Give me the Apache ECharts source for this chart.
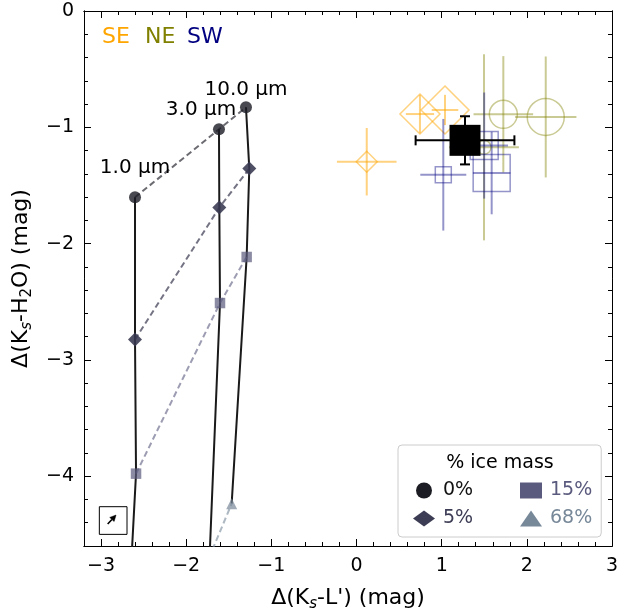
<!DOCTYPE html>
<html><head><meta charset="utf-8">
<script src="https://cdn.jsdelivr.net/npm/echarts@6/dist/echarts.min.js"></script>
<style>html,body{margin:0;padding:0;background:#fff}#c{width:618px;height:613px}</style>
</head><body><div id="c"></div>
<script>
// ---- model grid: grain sizes (columns) x ice fraction (rows) ----
const grainSizes = ['1.0 µm', '3.0 µm', '10.0 µm'];
const iceLabels = ['0%', '5%', '15%', '68%'];
const ice0X = [-2.601, -1.615, -1.298];
const ice0Y = [-1.602, -1.017, -0.828];
const ice5X = [-2.601, -1.611, -1.259];
const ice5Y = [-2.825, -1.690, -1.355];
const ice15X = [-2.589, -1.603, -1.290];
const ice15Y = [-3.978, -2.511, -2.115];
const ice68X = [-2.70, -1.725, -1.466];
const ice68Y = [-5.50, -4.689, -4.236];

// ---- observations ----
const seX = [0.745, 1.039, 0.120];
const seY = [-0.886, -0.851, -1.296];
const seXerr = [0.166, 0.156, 0.35];
const seYerr = [0.165, 0.13, 0.29];
const neX = [1.724, 2.222, 1.497];
const neY = [-0.888, -0.911, -1.172];
const neXerr = [0.35, 0.36, 0.41];
const neYerr = [0.50, 0.52, 0.80];
const swX = [1.019, 1.499, 1.587];
const swY = [-1.408, -1.157, -1.393];
const swXerr = [0.27, 0.28, 0.22];
const swYerr = [0.48, 0.456, 0.355];
const meanX = [1.274];
const meanY = [-1.112];
const meanXerr = [0.58];
const meanYerr = [0.207];

// reddening-vector inset (data coords)
const vecStart = [-2.922, -4.411];
const vecEnd = [-2.824, -4.334];
const insetBox = [[-3.02, -4.262], [-2.695, -4.50]];

// axis ticks
const xMajor = [-3, -2, -1, 0, 1, 2, 3];
const yMajor = [-4, -3, -2, -1, 0];

// ---- styles (kept separate from data) ----
const seSize = [40, 48, 21];
const neSize = [28, 37, 14];
const swSize = [16, 28, 37];
const meanSize = [31];
const labelOffsets = [[0, -30], [-18, -19], [0, -18]];
const FONT = '"DejaVu Sans", sans-serif';

const chart = echarts.init(document.getElementById('c'), null, {renderer: 'canvas'});
const fmt = v => (v < 0 ? '\u2212' + Math.abs(v) : String(v));

function xAx(pos, major) {
  const a = {type: 'value', position: pos, min: -3.2, max: 3, gridIndex: 0,
    splitLine: {show: false},
    axisLine: {show: true, onZero: false, lineStyle: {color: '#000', width: 1}},
    axisLabel: {show: false}};
  if (major) {
    a.axisTick = {show: true, inside: true, length: 7, customValues: xMajor, lineStyle: {color: '#000', width: 1}};
    if (pos === 'bottom') {
      a.axisLabel = {show: true, customValues: xMajor, formatter: fmt, color: '#000', fontSize: 19, fontFamily: FONT, margin: 11};
      a.name = '{m|\u0394(K}{s|s}{m|-L\') (mag)}';
      a.nameLocation = 'middle';
      a.nameGap = 38;
      a.nameTextStyle = {fontFamily: FONT, color: '#000', fontSize: 22,
        rich: {m: {fontSize: 22, lineHeight: 28, fontFamily: FONT, color: '#000'},
               s: {fontSize: 15, lineHeight: 14, verticalAlign: 'bottom', fontStyle: 'italic', fontFamily: FONT, color: '#000'}}};
    }
  } else {
    a.interval = 0.2;
    a.axisTick = {show: true, inside: true, length: 4, interval: 0, lineStyle: {color: '#000', width: 1}};
  }
  return a;
}
function yAx(pos, major) {
  const a = {type: 'value', position: pos, min: -4.6, max: 0, gridIndex: 0,
    splitLine: {show: false},
    axisLine: {show: true, onZero: false, lineStyle: {color: '#000', width: 1}},
    axisLabel: {show: false}};
  if (major) {
    a.axisTick = {show: true, inside: true, length: 7, customValues: yMajor, lineStyle: {color: '#000', width: 1}};
    if (pos === 'left') {
      a.axisLabel = {show: true, customValues: yMajor, formatter: fmt, color: '#000', fontSize: 19, fontFamily: FONT, margin: 10};
      a.name = '{m|\u0394(K}{s|s}{m|-H}{t|2}{m|O) (mag)}';
      a.nameLocation = 'middle';
      a.nameRotate = 90;
      a.nameGap = 46;
      a.nameTextStyle = {fontFamily: FONT, color: '#000', fontSize: 22,
        rich: {m: {fontSize: 22, lineHeight: 28, fontFamily: FONT, color: '#000'},
               s: {fontSize: 15, lineHeight: 14, verticalAlign: 'bottom', fontStyle: 'italic', fontFamily: FONT, color: '#000'},
               t: {fontSize: 15, lineHeight: 14, verticalAlign: 'bottom', fontFamily: FONT, color: '#000'}}};
    }
  } else {
    a.interval = 0.2;
    a.axisTick = {show: true, inside: true, length: 4, interval: 0, lineStyle: {color: '#000', width: 1}};
  }
  return a;
}

const iceX = [ice0X, ice5X, ice15X, ice68X];
const iceY = [ice0Y, ice5Y, ice15Y, ice68Y];
const iceSymbol = ['circle', 'diamond', 'rect', 'triangle'];
const iceSymSize = [12, 14, 10.5, 11];
const iceMarkerColor = ['rgba(28,28,38,0.8)', 'rgba(55,55,80,0.88)', 'rgba(90,90,126,0.7)', 'rgba(119,136,153,0.7)'];
const iceDashColor = ['rgba(28,28,38,0.65)', 'rgba(55,55,80,0.7)', 'rgba(90,90,126,0.6)', 'rgba(119,136,153,0.6)'];
const iceLegendColor = ['#1c1c24', '#3c3c55', '#5a5a7e', '#778899'];
const iceTextColor = ['#111111', '#3c3c55', '#5a5a7e', '#778899'];

const series = [];
// solid lines: constant grain size
grainSizes.forEach((g, gi) => {
  series.push({type: 'line', name: 'grain ' + g, z: 3, silent: true, showSymbol: false, symbol: 'none',
    data: iceX.map((xs, k) => [xs[gi], iceY[k][gi]]),
    lineStyle: {color: '#1a1a1a', width: 2}, clip: true});
});
// dashed lines + markers: constant ice fraction
iceLabels.forEach((lab, k) => {
  series.push({type: 'line', name: lab, z: 4 + k, silent: true, clip: true,
    symbol: iceSymbol[k], symbolSize: iceSymSize[k], showSymbol: true,
    itemStyle: {color: iceMarkerColor[k], borderWidth: 0, opacity: 1},
    lineStyle: {color: iceDashColor[k], width: 2, type: [6, 3.5]},
    data: iceX[k].map((x, i) => {
      const d = {value: [x, iceY[k][i]]};
      if (k === 0) d.label = {show: true, formatter: grainSizes[i], position: 'inside', offset: labelOffsets[i],
        fontSize: 20, fontFamily: FONT, color: '#000'};
      return d;
    })
  });
});

function errSeries(name, xs, ys, xe, ye, color, width, cap, z) {
  return {type: 'custom', name, z, silent: true, clip: true,
    data: xs.map((x, i) => [x, ys[i], xe[i], ye[i]]),
    encode: {x: 0, y: 1},
    renderItem(params, api) {
      const x = api.value(0), y = api.value(1), dx = api.value(2), dy = api.value(3);
      const l = api.coord([x - dx, y]), r = api.coord([x + dx, y]);
      const t = api.coord([x, y + dy]), b = api.coord([x, y - dy]);
      const style = {stroke: color, lineWidth: width, fill: null};
      const ch = [
        {type: 'line', shape: {x1: l[0], y1: l[1], x2: r[0], y2: r[1]}, style},
        {type: 'line', shape: {x1: t[0], y1: t[1], x2: b[0], y2: b[1]}, style}];
      if (cap) {
        ch.push({type: 'line', shape: {x1: l[0], y1: l[1] - cap, x2: l[0], y2: l[1] + cap}, style});
        ch.push({type: 'line', shape: {x1: r[0], y1: r[1] - cap, x2: r[0], y2: r[1] + cap}, style});
        ch.push({type: 'line', shape: {x1: t[0] - cap, y1: t[1], x2: t[0] + cap, y2: t[1]}, style});
        ch.push({type: 'line', shape: {x1: b[0] - cap, y1: b[1], x2: b[0] + cap, y2: b[1]}, style});
      }
      return {type: 'group', children: ch};
    }};
}
function markSeries(name, xs, ys, sizes, symbol, color, filled, z) {
  return {type: 'scatter', name, z, silent: true, symbol,
    data: xs.map((x, i) => ({value: [x, ys[i]], symbolSize: sizes[i]})),
    itemStyle: filled ? {color: color, opacity: 1} : {color: 'rgba(0,0,0,0)', borderColor: color, borderWidth: 1.5, opacity: 1}};
}
const seC = 'rgba(255,165,0,0.5)', neC = 'rgba(128,128,0,0.42)', swC = 'rgba(0,0,128,0.42)';
series.push(errSeries('SE err', seX, seY, seXerr, seYerr, seC, 2, 0, 10));
series.push(markSeries('SE', seX, seY, seSize, 'diamond', seC, false, 11));
series.push(errSeries('NE err', neX, neY, neXerr, neYerr, neC, 2, 0, 12));
series.push(markSeries('NE', neX, neY, neSize, 'circle', neC, false, 13));
series.push(errSeries('SW err', swX, swY, swXerr, swYerr, swC, 2, 0, 14));
series.push(markSeries('SW', swX, swY, swSize, 'rect', swC, false, 15));
series.push(errSeries('mean err', meanX, meanY, meanXerr, meanYerr, '#000', 2, 5, 16));
series.push(markSeries('mean', meanX, meanY, meanSize, 'rect', '#000', true, 17));
// inset: box + reddening vector, drawn through the axes' scales
series.push({type: 'custom', name: 'inset', z: 20, silent: true, clip: false,
  data: [[vecStart[0], vecStart[1], vecEnd[0], vecEnd[1], insetBox[0][0], insetBox[0][1], insetBox[1][0], insetBox[1][1]]],
  encode: {x: [0, 2], y: [1, 3]},
  renderItem(params, api) {
    const p0 = api.coord([api.value(0), api.value(1)]);
    const p1 = api.coord([api.value(2), api.value(3)]);
    const b0 = api.coord([api.value(4), api.value(5)]);
    const b1 = api.coord([api.value(6), api.value(7)]);
    const dx = p1[0] - p0[0], dy = p1[1] - p0[1];
    const len = Math.sqrt(dx * dx + dy * dy), ux = dx / len, uy = dy / len;
    const hl = 6, hw = 3;
    const base = [p1[0] - ux * hl, p1[1] - uy * hl];
    return {type: 'group', children: [
      {type: 'rect', shape: {x: Math.min(b0[0], b1[0]), y: Math.min(b0[1], b1[1]),
        width: Math.abs(b1[0] - b0[0]), height: Math.abs(b1[1] - b0[1])},
        style: {fill: '#fff', stroke: '#000', lineWidth: 1}},
      {type: 'line', shape: {x1: p0[0], y1: p0[1], x2: base[0], y2: base[1]}, style: {stroke: '#000', lineWidth: 1.6}},
      {type: 'polygon', shape: {points: [p1, [base[0] - uy * hw, base[1] + ux * hw], [base[0] + uy * hw, base[1] - ux * hw]]},
        style: {fill: '#000', stroke: '#000', lineWidth: 0.5}}
    ]};
  }
});

const option = {
  backgroundColor: '#fff',
  animation: false,
  grid: {left: 84, right: 6, top: 11, bottom: 67, containLabel: false, outerBoundsMode: 'none'},
  xAxis: [xAx('bottom', true), xAx('bottom', false), xAx('top', true), xAx('top', false)],
  yAxis: [yAx('left', true), yAx('left', false), yAx('right', true), yAx('right', false)],
  legend: {
    left: 398, top: 445, orient: 'vertical', height: 50,
    padding: [36, 9, 9, 15], itemGap: 9, itemWidth: 22, itemHeight: 16,
    backgroundColor: 'rgba(255,255,255,0.8)', borderColor: '#cccccc', borderWidth: 1, borderRadius: 4,
    selectedMode: false, z: 30,
    textStyle: {fontSize: 19, fontFamily: FONT, lineHeight: 19, padding: [0, 0, 0, 3]},
    data: iceLabels.map((lab, k) => ({
      name: lab, icon: iceSymbol[k],
      itemStyle: {color: iceLegendColor[k], borderWidth: 0},
      textStyle: Object.assign({color: iceTextColor[k], fontSize: 19, fontFamily: FONT, lineHeight: 19, padding: [0, 0, 0, 3]},
        k < 2 ? {width: 68} : {})
    }))
  },
  graphic: [
    {type: 'text', x: 102, y: 37, z: 50, style: {text: 'SE', fill: '#FFA500', font: '22px ' + FONT, verticalAlign: 'middle'}},
    {type: 'text', x: 145, y: 37, z: 50, style: {text: 'NE', fill: '#808000', font: '22px ' + FONT, verticalAlign: 'middle'}},
    {type: 'text', x: 187, y: 37, z: 50, style: {text: 'SW', fill: '#000080', font: '22px ' + FONT, verticalAlign: 'middle'}},
    {type: 'text', x: 500, y: 463, z: 50, style: {text: '% ice mass', fill: '#000', font: '19px ' + FONT, align: 'center', verticalAlign: 'middle'}}
  ],
  series
};
chart.setOption(option);
</script></body></html>
